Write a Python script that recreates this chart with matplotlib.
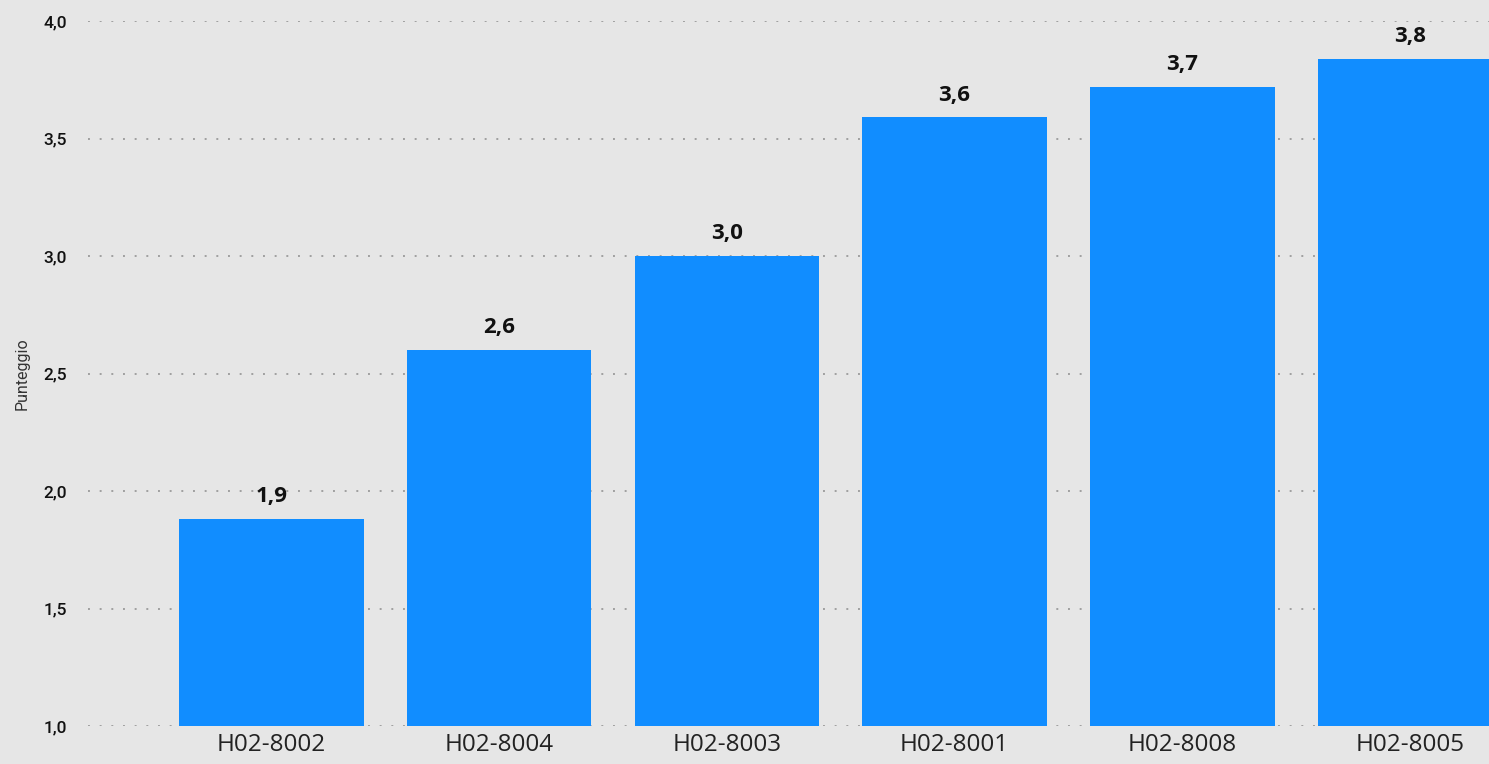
import matplotlib
matplotlib.use("Agg")
import matplotlib.pyplot as plt

# Data
categories = ["H02-8002", "H02-8004", "H02-8003", "H02-8001", "H02-8008", "H02-8005"]
scores = [1.88, 2.60, 3.00, 3.59, 3.72, 3.84]
labels = ["1,9", "2,6", "3,0", "3,6", "3,7", "3,8"]
yticks = [1.0, 1.5, 2.0, 2.5, 3.0, 3.5, 4.0]
ytick_labels = ["1,0", "1,5", "2,0", "2,5", "3,0", "3,5", "4,0"]

bg = "#E6E6E6"
bar_color = "#118DFF"

fig = plt.figure(figsize=(14.89, 7.64), dpi=100, facecolor=bg)
ax = fig.add_axes([0.0591, 0.0497, 0.9409, 0.9228])
ax.set_facecolor(bg)

x = list(range(len(categories)))
ax.bar(x, scores, width=0.81, color=bar_color, zorder=3)

for xi, s, lab in zip(x, scores, labels):
    ax.text(xi, s + 0.05, lab, ha="center", va="bottom", fontsize=16,
            fontfamily="Open Sans", fontweight="bold", color="#111111",
            zorder=4, clip_on=False)

ax.set_xlim(-0.806, 5.347)
ax.set_ylim(1.0, 4.0)
ax.set_yticks(yticks)
ax.set_yticklabels(ytick_labels, fontfamily="Roboto", fontsize=12.5,
                   fontweight="medium", color="#111111")
ax.set_xticks(x)
ax.set_xticklabels(categories, fontfamily="Open Sans", fontsize=17.5, color="#222222")
ax.tick_params(axis="y", length=0, pad=15)
ax.tick_params(axis="x", length=0, pad=5)

ax.grid(axis="y", color="#A0A0A0", linestyle=(0, (1, 5)), linewidth=1.4, zorder=0)
ax.set_axisbelow(True)
for sp in ax.spines.values():
    sp.set_visible(False)

ax.set_ylabel("Punteggio", fontfamily="Roboto", fontsize=11.5, color="#333333", labelpad=10)

fig.savefig("out.png", dpi=100, facecolor=bg)
